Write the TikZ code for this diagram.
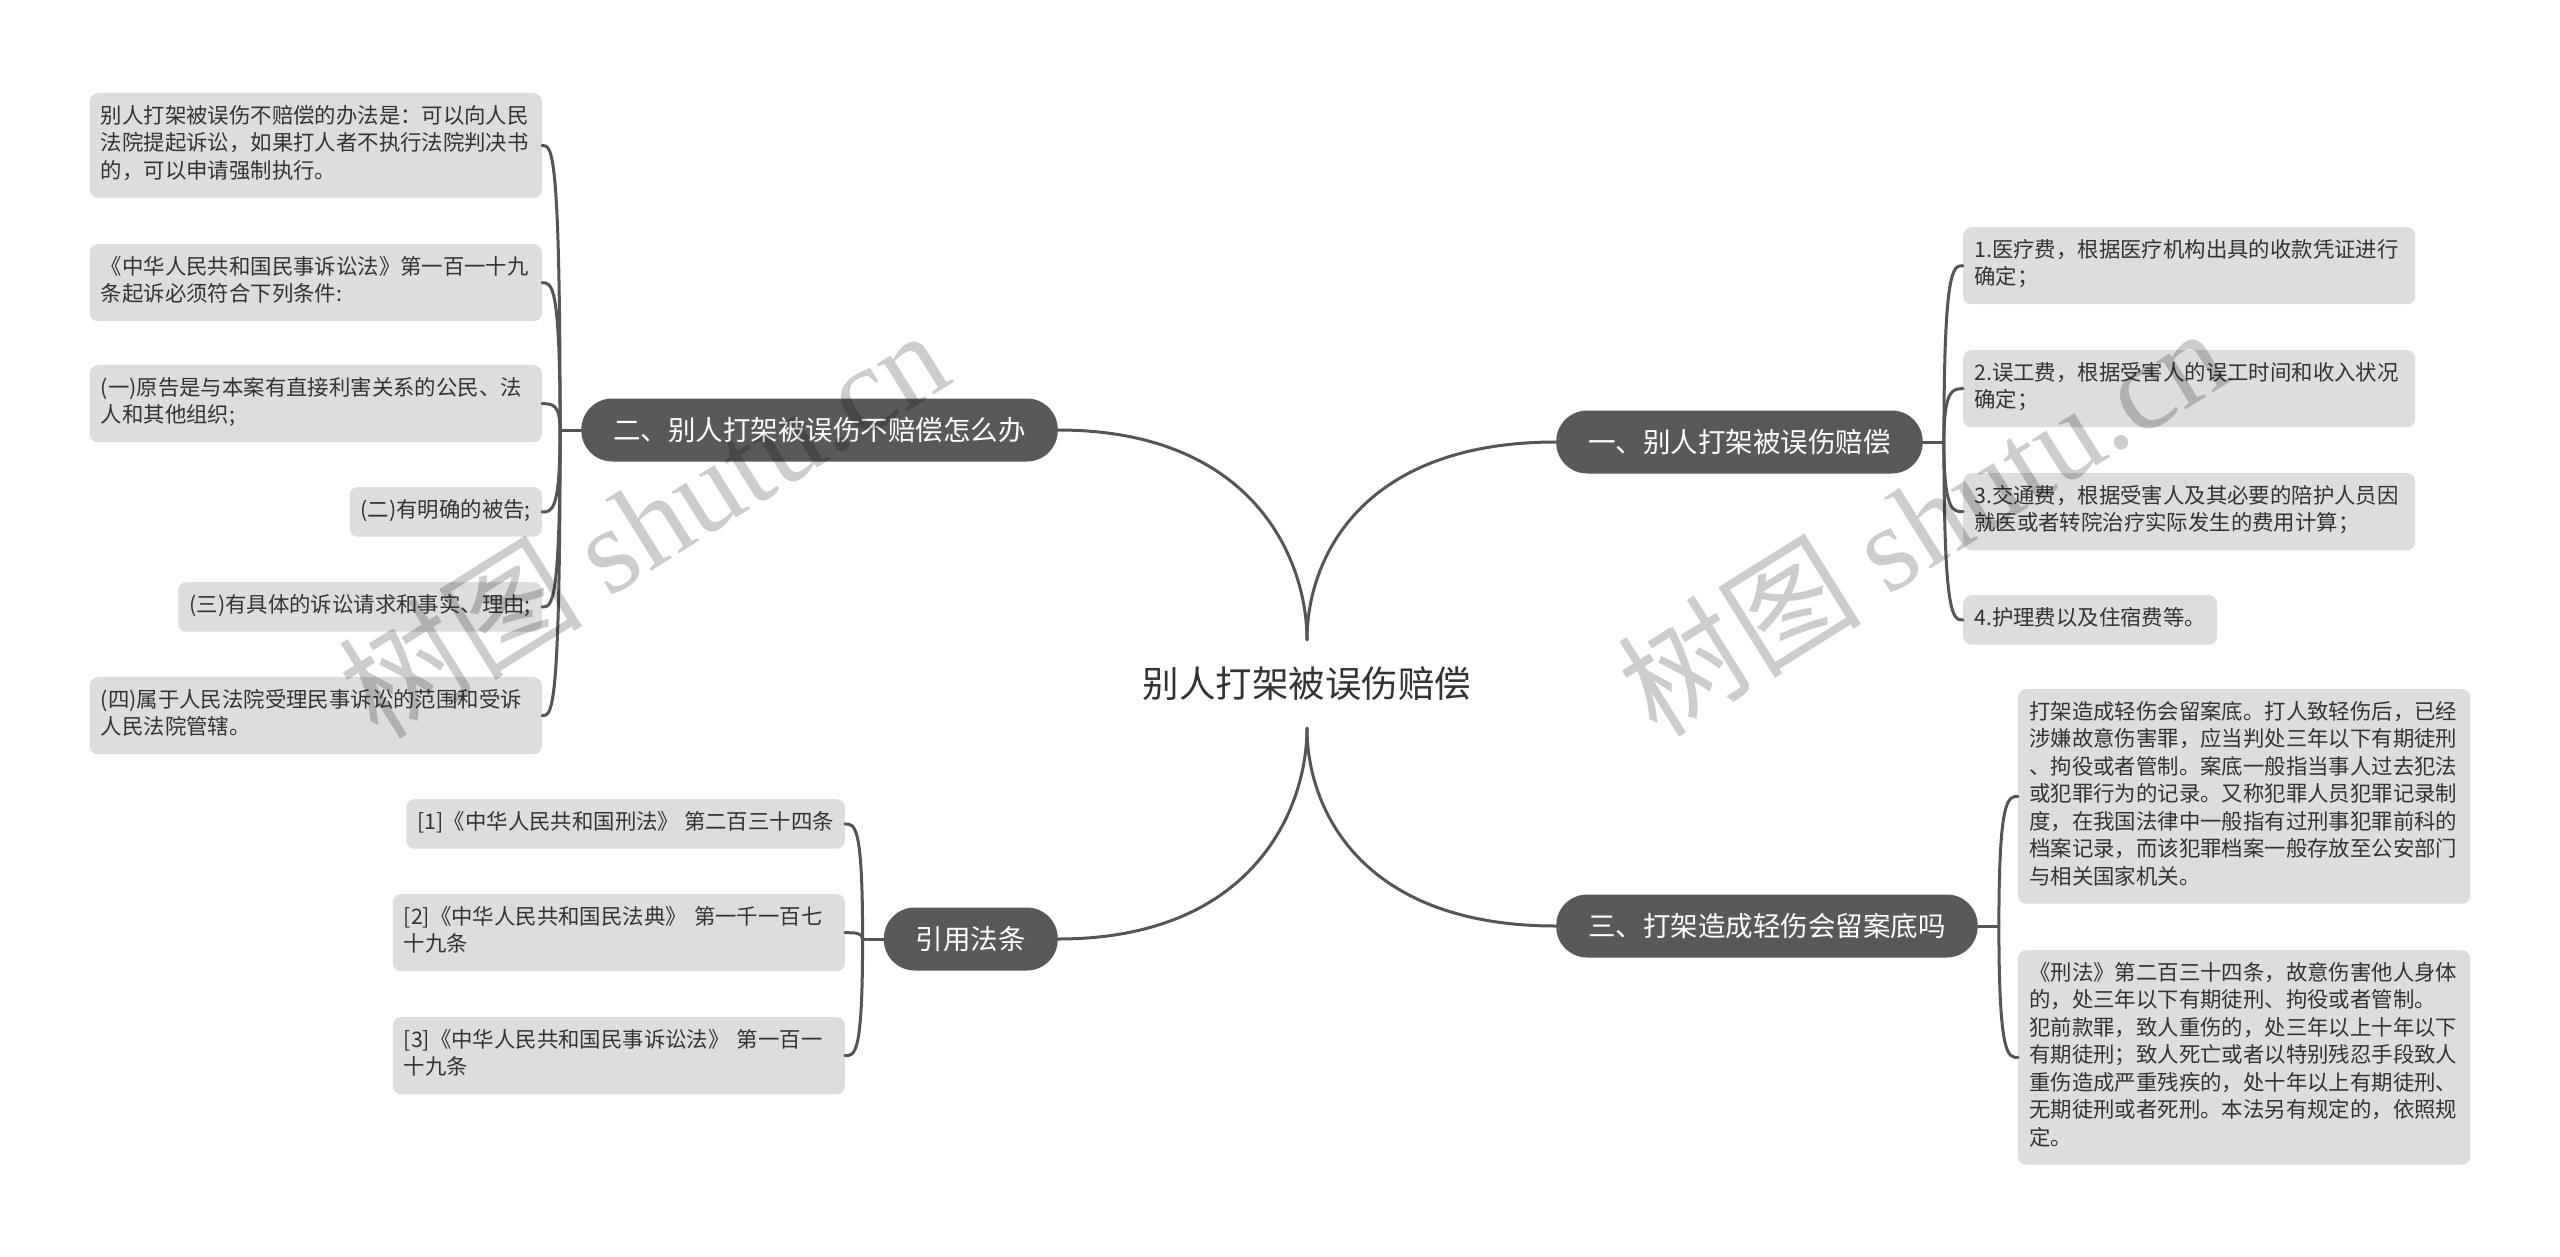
\documentclass[tikz,border=0pt]{standalone}
\usepackage{fontspec}
\setmainfont{Noto Sans CJK SC}
\newfontfamily\wmlatin{Liberation Serif}
\usetikzlibrary{calc}
\definecolor{nodegray}{RGB}{89,89,89}
\definecolor{boxgray}{RGB}{221,221,221}
\definecolor{linegray}{RGB}{85,85,85}
\definecolor{txtgray}{RGB}{51,51,51}
\begin{document}
\begin{tikzpicture}[x=1pt,y=-1pt,
  topic/.style={fill=nodegray, text=white, rounded corners=31pt, minimum height=63pt,
    inner xsep=32pt, inner ysep=0pt, font=\fontsize{27.5}{33}\selectfont},
  leaf/.style={fill=boxgray, text=txtgray, rounded corners=8pt, inner xsep=11pt,
    inner ysep=11pt, align=left, font=\fontsize{21.4}{27.5}\selectfont,
    execute at begin node=\strut, execute at end node=\strut},
  wide/.style={leaf, text width=430pt},
  conn/.style={draw=linegray, line width=3pt, line cap=round},
  wm/.style={rotate=32, text=black, text opacity=0.2, font=\fontsize{122}{130}\selectfont}
]
\useasboundingbox (0,0) rectangle (2560,1256);
\fill[white] (0,0) rectangle (2560,1256);

% center and topics
\node[font=\fontsize{36.5}{40}\selectfont, text=txtgray, inner sep=0pt,
  minimum height=88pt, minimum width=340pt] (c) at (1307,684) {别人打架被误伤赔偿};
\node[topic, anchor=west] (n1) at (1556,442) {一、别人打架被误伤赔偿};
\node[topic, anchor=east] (n2) at (1058,430) {二、别人打架被误伤不赔偿怎么办};
\node[topic, anchor=west] (n3) at (1556,926) {三、打架造成轻伤会留案底吗};
\node[topic, anchor=east] (n4) at (1058,939) {引用法条};

% left leaves (二)
\node[wide, anchor=north east] (a1) at (542,93) {别人打架被误伤不赔偿的办法是：可以向人民\\法院提起诉讼，如果打人者不执行法院判决书\\的，可以申请强制执行。};
\node[wide, anchor=north east] (a2) at (542,244) {《中华人民共和国民事诉讼法》第一百一十九\\条起诉必须符合下列条件:};
\node[wide, anchor=north east] (a3) at (542,365) {(一)原告是与本案有直接利害关系的公民、法\\人和其他组织;};
\node[leaf, anchor=north east] (a4) at (542,487) {(二)有明确的被告;};
\node[leaf, anchor=north east] (a5) at (542,582) {(三)有具体的诉讼请求和事实、理由;};
\node[wide, anchor=north east] (a6) at (542,677) {(四)属于人民法院受理民事诉讼的范围和受诉\\人民法院管辖。};

% right leaves (一)
\node[wide, anchor=north west] (r1) at (1963,227) {1.医疗费，根据医疗机构出具的收款凭证进行\\确定；};
\node[wide, anchor=north west] (r2) at (1963,350) {2.误工费，根据受害人的误工时间和收入状况\\确定；};
\node[wide, anchor=north west] (r3) at (1963,473) {3.交通费，根据受害人及其必要的陪护人员因\\就医或者转院治疗实际发生的费用计算；};
\node[leaf, anchor=north west] (r4) at (1963,595) {4.护理费以及住宿费等。};

% right leaves (三)
\node[wide, anchor=north west] (s1) at (2018,689) {打架造成轻伤会留案底。打人致轻伤后，已经\\涉嫌故意伤害罪，应当判处三年以下有期徒刑\\、拘役或者管制。案底一般指当事人过去犯法\\或犯罪行为的记录。又称犯罪人员犯罪记录制\\度，在我国法律中一般指有过刑事犯罪前科的\\档案记录，而该犯罪档案一般存放至公安部门\\与相关国家机关。};
\node[wide, anchor=north west] (s2) at (2018,950) {《刑法》第二百三十四条，故意伤害他人身体\\的，处三年以下有期徒刑、拘役或者管制。\\犯前款罪，致人重伤的，处三年以上十年以下\\有期徒刑；致人死亡或者以特别残忍手段致人\\重伤造成严重残疾的，处十年以上有期徒刑、\\无期徒刑或者死刑。本法另有规定的，依照规\\定。};

% reference leaves
\node[leaf, anchor=north east] (q1) at (845,799) {[1]《中华人民共和国刑法》 第二百三十四条};
\node[wide, anchor=north east] (q2) at (845,894) {[2]《中华人民共和国民法典》 第一千一百七\\十九条};
\node[wide, anchor=north east] (q3) at (845,1017) {[3]《中华人民共和国民事诉讼法》 第一百一\\十九条};

% junctions
\coordinate (j1) at ($(n1.east)+(21,0)$);
\coordinate (j2) at ($(n2.west)+(-21,0)$);
\coordinate (j3) at ($(n3.east)+(21,0)$);
\coordinate (j4) at ($(n4.west)+(-21,0)$);

% main curves
\draw[conn] (c.north) .. controls ($(c.north)+(0,-80)$) and ($(n1.west)+(-196,0)$) .. (n1.west);
\draw[conn] (c.north) .. controls ($(c.north)+(0,-80)$) and ($(n2.east)+(196,0)$) .. (n2.east);
\draw[conn] (c.south) .. controls ($(c.south)+(0,80)$) and ($(n3.west)+(-196,0)$) .. (n3.west);
\draw[conn] (c.south) .. controls ($(c.south)+(0,80)$) and ($(n4.east)+(196,0)$) .. (n4.east);

% stubs
\draw[conn] (n1.east) -- (j1);
\draw[conn] (n2.west) -- (j2);
\draw[conn] (n3.east) -- (j3);
\draw[conn] (n4.west) -- (j4);

% brackets
\foreach \b in {a1,a2,a3,a4,a5,a6}
  \draw[conn] (j2) .. controls (j2 |- \b.east) and ($(\b.east)+(10,0)$) .. (\b.east);
\foreach \b in {q1,q2,q3}
  \draw[conn] (j4) .. controls (j4 |- \b.east) and ($(\b.east)+(10,0)$) .. (\b.east);
\foreach \b in {r1,r2,r3,r4}
  \draw[conn] (j1) .. controls (j1 |- \b.west) and ($(\b.west)+(-10,0)$) .. (\b.west);
\foreach \b in {s1,s2}
  \draw[conn] (j3) .. controls (j3 |- \b.west) and ($(\b.west)+(-10,0)$) .. (\b.west);

% watermarks
\node[wm] (w1) at (643,522) {树图 {\wmlatin shutu.cn}};
\node[wm] (w2) at (1922,520) {树图 {\wmlatin shutu.cn}};
\end{tikzpicture}
\end{document}
